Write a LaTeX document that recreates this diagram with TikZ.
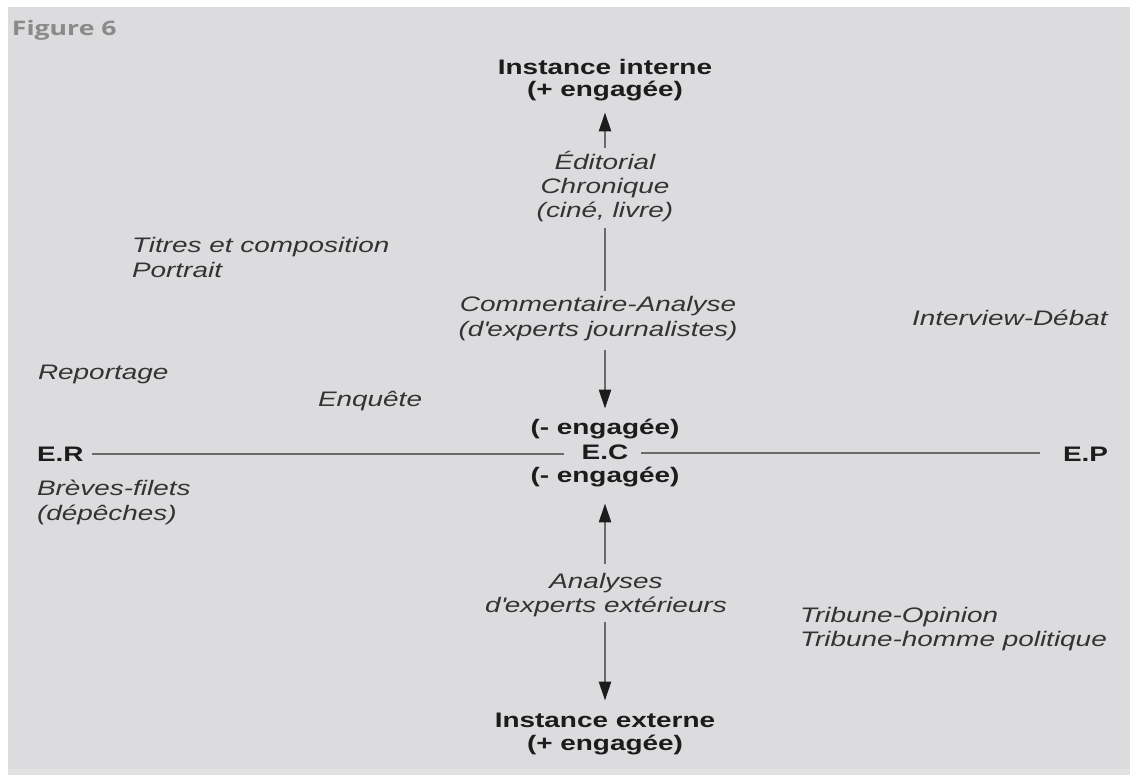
\documentclass[tikz,border=0pt]{standalone}
\usepackage{fontspec}
\setmainfont{Liberation Sans}[FakeStretch=1.33]
\newfontfamily\figfont{Open Sans}[FakeStretch=1.33]
\usetikzlibrary{arrows.meta}
\definecolor{bgc}{HTML}{DCDCDE}
\definecolor{bandc}{HTML}{E2E2E2}
\definecolor{headc}{HTML}{1C1C1C}
\definecolor{labc}{HTML}{333333}
\definecolor{linec}{HTML}{6A6A6A}
\definecolor{figc}{HTML}{8A8A8A}
\begin{document}
\begin{tikzpicture}[x=1pt,y=-1pt,
  every node/.style={inner sep=0pt, outer sep=0pt},
  head/.style={font=\fontsize{21}{24}\selectfont\bfseries, text=headc, anchor=base},
  lab/.style={font=\fontsize{21}{24}\selectfont\itshape, text=labc, anchor=base},
  labw/.style={lab, anchor=base west},
  axisline/.style={draw=linec, line width=2.5pt},
  arr/.style={axisline, -{Triangle[length=19pt,width=12pt,color=headc]}}]
\useasboundingbox (0,0) rectangle (1130,775);
\fill[white] (0,0) rectangle (1130,775);
\fill[bgc] (8,7) rectangle (1130,769);
\fill[bandc] (8,769) rectangle (1130,775);

\node[anchor=base west, text=figc, font=\figfont\fontsize{20}{23}\bfseries\selectfont] (fig) at (12,36) {Figure 6};

% central column
\node[head] (it1) at (605,75) {Instance interne};
\node[head] (it2) at (605,97) {(+ engagée)};
\node[lab] (ed1) at (605,170) {Éditorial};
\node[lab] (ed2) at (605,194) {Chronique};
\node[lab] (ed3) at (605,218) {(ciné, livre)};
\node[lab] (co1) at (598,312) {Commentaire-Analyse};
\node[lab] (co2) at (598,337) {(d\textquotesingle experts journalistes)};
\node[head] (ec1) at (605,435) {(- engagée)};
\node[head] (ec) at (605,460) {E.C};
\node[head] (ec2) at (605,482) {(- engagée)};
\node[lab] (an1) at (606,588) {Analyses};
\node[lab] (an2) at (606,612) {d\textquotesingle experts extérieurs};
\node[head] (ie1) at (605,727) {Instance externe};
\node[head] (ie2) at (605,750) {(+ engagée)};

% axis ends
\node[head, anchor=base west] (er) at (37,461) {E.R};
\node[head, anchor=base west] (ep) at (1063,461) {E.P};

% genres
\node[labw] (ti1) at (132,253) {Titres et composition};
\node[labw] (ti2) at (132,278) {Portrait};
\node[labw] (rep) at (38,380) {Reportage};
\node[labw] (enq) at (318,407) {Enquête};
\node[labw] (br1) at (37,495) {Brèves-filets};
\node[labw] (br2) at (37,520) {(dépêches)};
\node[labw] (int) at (912,326) {Interview-Débat};
\node[labw] (tr1) at (800,622) {Tribune-Opinion};
\node[labw] (tr2) at (800,646) {Tribune-homme politique};

% connectors
\draw[arr, shorten <=4pt, shorten >=11pt] (ed1.north) -- (ed1.north |- it2.south);
\draw[axisline, shorten <=6pt, shorten >=6pt] (ed3.south) -- (ed3.south |- co1.north);
\draw[arr, shorten <=9pt, shorten >=11pt] (ec1.north |- co2.south) -- (ec1.north);
\draw[arr, shorten <=9pt, shorten >=17pt] (ec2.south |- an1.north) -- (ec2.south);
\draw[arr, shorten <=6pt, shorten >=12pt] (ie1.north |- an2.south) -- (ie1.north);
\draw[axisline, shorten <=8pt, shorten >=18pt] (er.east) -- (er.east -| ec.west);
\draw[axisline, shorten <=13pt, shorten >=23pt] (ec.east) -- (ec.east -| ep.west);
\end{tikzpicture}
\end{document}
